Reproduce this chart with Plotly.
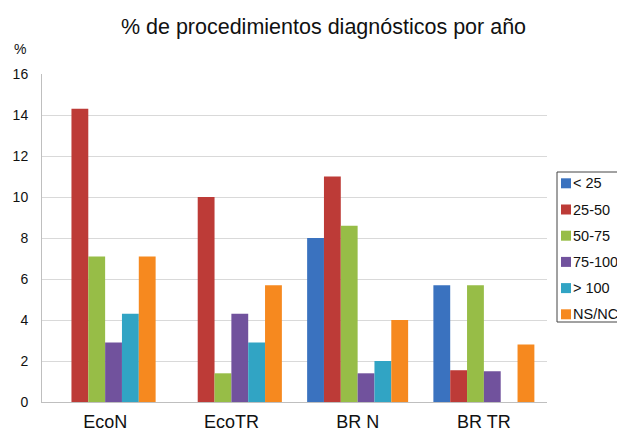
import plotly.graph_objects as go

categories = ["EcoN", "EcoTR", "BR N", "BR TR"]
series_names = ["< 25", "25-50", "50-75", "75-100", "> 100", "NS/NC"]
v_lt25 = [0, 0, 8.0, 5.7]
v_25_50 = [14.3, 10.0, 11.0, 1.55]
v_50_75 = [7.1, 1.4, 8.6, 5.7]
v_75_100 = [2.9, 4.3, 1.4, 1.5]
v_gt100 = [4.3, 2.9, 2.0, 0]
v_nsnc = [7.1, 5.7, 4.0, 2.8]
series_values = [v_lt25, v_25_50, v_50_75, v_75_100, v_gt100, v_nsnc]
colors = ["#3a72bf", "#bd3b37", "#97bd47", "#71529d", "#31a4c4", "#f6891f"]
y_ticks = [0, 2, 4, 6, 8, 10, 12, 14, 16]

W, H = 617, 431
L, R, T, B = 42, 70, 74, 29
pw, ph = W - L - R, H - T - B

def px(x):
    return (x - L) / pw

def py(y):
    return (H - B - y) / ph

FONT = "Liberation Sans, Arial, Helvetica, sans-serif"

fig = go.Figure()
for name, vals, col in zip(series_names, series_values, colors):
    fig.add_trace(go.Bar(x=categories, y=vals, name=name, marker_color=col,
                         marker_line_width=0, showlegend=False))

# manual legend (box, swatches, labels)
shapes = [dict(type="rect", xref="paper", yref="paper",
               x0=px(557), x1=px(660), y0=py(322), y1=py(172),
               line=dict(color="#444444", width=1), fillcolor="white")]
annotations = []
for i, (name, col) in enumerate(zip(series_names, colors)):
    cy = 183.3 + i * 26.2
    shapes.append(dict(type="rect", xref="paper", yref="paper",
                       x0=px(561), x1=px(571), y0=py(cy + 5), y1=py(cy - 5),
                       line=dict(width=0), fillcolor=col))
    annotations.append(dict(xref="paper", yref="paper", x=px(571), y=py(cy),
                            xanchor="left", yanchor="middle", showarrow=False,
                            text=name, font=dict(size=14.5, color="#111111", family=FONT)))

annotations.append(dict(xref="paper", yref="paper", x=px(20), y=py(49),
                        xanchor="center", yanchor="middle", showarrow=False,
                        text="%", font=dict(size=14, color="#111111", family=FONT)))

fig.update_layout(
    width=W, height=H,
    margin=dict(l=L, r=R, t=T, b=B, autoexpand=False),
    paper_bgcolor="white", plot_bgcolor="white",
    barmode="group", bargap=0.2, bargroupgap=0,
    title=dict(text="% de procedimientos diagnósticos por año",
               xref="container", x=323.5 / W, xanchor="center",
               yref="container", y=1 - 26 / H, yanchor="middle",
               font=dict(size=21.5, color="#111111", family=FONT)),
    font=dict(family=FONT, color="#111111"),
    shapes=shapes, annotations=annotations,
    xaxis=dict(showgrid=False, showline=True, linecolor="#bfbfbf", linewidth=1,
               ticks="outside", ticklen=3, tickcolor="rgba(0,0,0,0)",
               tickfont=dict(size=18, color="#111111")),
    yaxis=dict(range=[0, 16], tickvals=y_ticks, showgrid=True, gridcolor="#d9d9d9",
               gridwidth=1, showline=True, linecolor="#bfbfbf", linewidth=1,
               zeroline=False, ticks="outside", ticklen=10, tickcolor="rgba(0,0,0,0)",
               tickfont=dict(size=14, color="#111111")),
)

fig.write_html("out.html", config={"displayModeBar": False},
               post_script="document.body.style.margin='0';")
